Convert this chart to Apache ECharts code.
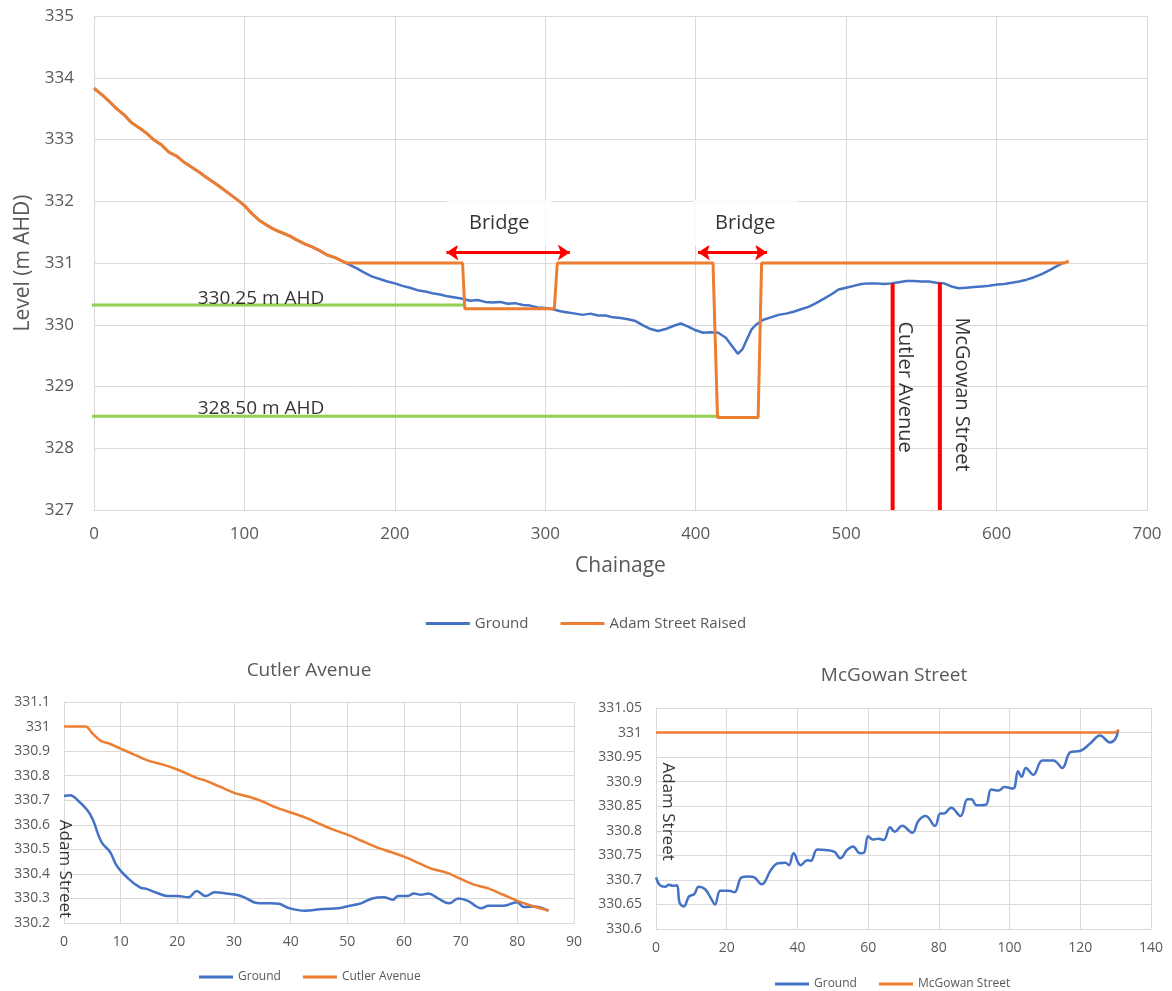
<!DOCTYPE html>
<html><head><meta charset="utf-8">
<script src="https://cdn.jsdelivr.net/npm/echarts@6/dist/echarts.min.js"></script>
<style>html,body{margin:0;padding:0;background:#fff}#c{width:1172px;height:991px}</style>
</head><body><div id="c"></div><script>
// ---------- Main chart data ----------
const mainGround = [
[0,333.83],[5,333.73],[10,333.62],[15,333.50],[20,333.40],[25,333.27],[30,333.19],[35,333.10],[40,332.99],[45,332.91],
[50,332.79],[55,332.73],[60,332.63],[65,332.55],[70,332.47],[75,332.38],[80,332.30],[85,332.21],[90,332.12],[95,332.03],
[100,331.93],[105,331.80],[110,331.69],[115,331.61],[120,331.54],[125,331.49],[130,331.44],[135,331.37],[140,331.31],[145,331.26],
[150,331.20],[155,331.13],[160,331.09],[165,331.03],[170,330.97],[175,330.91],[180,330.84],[185,330.78],[190,330.74],[195,330.70],
[200,330.67],[205,330.63],[210,330.60],[215,330.56],[220,330.54],[225,330.51],[230,330.49],[235,330.46],[240,330.44],[245,330.42],
[250,330.39],[255,330.40],[260,330.37],[265,330.36],[270,330.37],[275,330.34],[280,330.35],[285,330.32],[290,330.31],[295,330.28],
[300,330.27],[305,330.25],[310,330.22],[315,330.20],[320,330.18],[325,330.16],[330,330.18],[335,330.15],[340,330.15],[345,330.12],
[350,330.11],[355,330.09],[360,330.06],[365,329.99],[370,329.93],[375,329.90],[380,329.93],[385,329.98],[390,330.02],[395,329.97],
[400,329.91],[405,329.87],[410,329.88],[415,329.87],[420,329.79],[424,329.66],[428,329.53],[431,329.60],[434,329.76],[437,329.92],
[440,330.00],[445,330.08],[450,330.12],[455,330.16],[460,330.18],[465,330.21],[470,330.25],[475,330.29],[480,330.35],[485,330.42],
[490,330.49],[495,330.57],[500,330.60],[505,330.63],[510,330.66],[515,330.67],[520,330.67],[525,330.66],[530,330.67],[535,330.69],
[540,330.71],[545,330.71],[550,330.70],[555,330.70],[560,330.68],[565,330.67],[570,330.62],[575,330.59],[580,330.60],[585,330.61],
[590,330.62],[595,330.63],[600,330.65],[605,330.66],[610,330.68],[615,330.70],[620,330.73],[625,330.77],[630,330.82],[635,330.88],
[640,330.95],[645,331.01]
];
const mainRaised = [
[0,333.83],[5,333.73],[10,333.62],[15,333.50],[20,333.40],[25,333.27],[30,333.19],[35,333.10],[40,332.99],[45,332.91],
[50,332.79],[55,332.73],[60,332.63],[65,332.55],[70,332.47],[75,332.38],[80,332.30],[85,332.21],[90,332.12],[95,332.03],
[100,331.93],[105,331.80],[110,331.69],[115,331.61],[120,331.54],[125,331.49],[130,331.44],[135,331.37],[140,331.31],[145,331.26],
[150,331.20],[155,331.13],[160,331.09],[165,331.03],[168,331.00],
[245,331.00],[246.5,330.26],[306,330.26],[308,331.00],
[411.5,331.00],[414.5,328.50],[441.5,328.50],[443.8,331.00],
[645,331.00],[648,331.03]
];
const levelValues = [330.32, 328.52];
const levelLabels = ['330.25 m AHD', '328.50 m AHD'];
const levelStart = -4.5;
const levelEnds = [246.5, 415.8];
const levelLabelPos = [[111, 330.43], [111, 328.65]];

const streetNames = ['Cutler Avenue', 'McGowan Street'];
const streetChainage = [530.9, 562.3];
const streetTop = [330.67, 330.68];
const streetLabelPos = [[538.9, 328.99], [576.7, 328.87]];

const bridgeFrom = [234.3, 401.5];
const bridgeTo = [316.3, 447.4];
const bridgeArrowLevel = 331.17;
const bridgeLabelPos = [[269.4, 331.65], [433.0, 331.65]];

// ---------- Cutler Avenue data ----------
const cutlerGround = [
[0,330.717],[1.1,330.72],[2.4,330.70],[4.1,330.66],[5.1,330.62],[6.6,330.53],[8.1,330.49],[9.4,330.43],[11.4,330.38],[13.4,330.345],
[14.4,330.34],[16.7,330.32],[18.3,330.31],[20,330.31],[22,330.305],[23.4,330.33],[25,330.31],[26.6,330.325],[28.6,330.32],[31.2,330.31],
[34.5,330.28],[36.5,330.28],[37.9,330.278],[39.8,330.26],[42.5,330.25],[45.8,330.257],[48.4,330.26],[50.4,330.27],[52.4,330.28],[54.4,330.30],
[56.4,330.305],[58,330.295],[59,330.31],[60.7,330.31],[61.7,330.32],[63,330.315],[64.3,330.32],[66,330.30],[68,330.28],[69.6,330.30],
[71.3,330.29],[72.6,330.27],[73.6,330.26],[74.9,330.27],[77.6,330.27],[79.9,330.285],[81.2,330.265],[82.9,330.267],[85.5,330.25]
];
const cutlerRoad = [
[0,331.0],[3.8,331.0],[5.1,330.97],[6.6,330.94],[8.1,330.93],[10,330.91],[12.5,330.885],[15,330.86],[17.5,330.845],[20,330.825],
[23.5,330.79],[25,330.78],[27.5,330.755],[30,330.73],[32.5,330.715],[35,330.695],[37.5,330.67],[40,330.65],[42.5,330.63],[45,330.605],
[47.5,330.58],[50,330.56],[52.5,330.535],[55,330.51],[57.5,330.49],[60,330.47],[62.5,330.445],[65,330.42],[67.5,330.405],[70,330.38],
[72.5,330.355],[75,330.34],[77.5,330.315],[80,330.29],[82.5,330.27],[85.5,330.25]
];
const cutlerAdamPos = [0.1, 330.42];

// ---------- McGowan Street data ----------
const mcgowanGround = [
[0,330.705],[1.0,330.69],[2.6,330.686],[3.6,330.69],[4.8,330.688],[5.9,330.689],[6.7,330.653],[7.9,330.646],[9.3,330.666],[10.8,330.671],
[12.1,330.686],[13.9,330.681],[15.5,330.663],[16.7,330.65],[18.2,330.678],[20.6,330.678],[22.2,330.675],[24.2,330.705],[26.3,330.707],[27.8,330.705],
[29.9,330.691],[32.5,330.72],[34.5,330.734],[36.6,330.735],[37.6,330.73],[38.9,330.754],[40.9,330.73],[42.8,330.74],[43.8,330.739],[45.6,330.762],
[47.9,330.761],[50.5,330.757],[52.1,330.744],[54.1,330.761],[55.7,330.768],[57.7,330.754],[58.8,330.755],[60,330.789],[61.3,330.782],[62.9,330.784],
[64.4,330.781],[66.2,330.807],[67.5,330.798],[69.6,330.81],[72.5,330.796],[74.2,330.82],[76.3,330.83],[78.9,330.81],[80.4,330.835],[81.4,330.835],
[83.5,330.847],[86.1,330.83],[88.1,330.864],[89.2,330.864],[90.7,330.852],[93.3,330.853],[94.8,330.884],[96.9,330.882],[98.5,330.889],[101.0,330.886],
[102.4,330.921],[103.4,330.91],[104.6,330.928],[106.7,330.914],[109.3,330.943],[112.4,330.943],[114.9,330.928],[117.2,330.96],[120.1,330.963],[122.7,330.977],
[125.6,330.994],[128.4,330.98],[129.9,330.987],[130.7,331.004]
];
const mcgowanRoad = [[0,331.0],[130,331.0],[130.9,331.006]];
const mcgowanAdamPos = [3.25, 330.839];

// ---------- styling ----------
const FONT = 'Open Sans';
const GRAY = '#595959';
const GRIDC = '#D9D9D9';
const BLUE = '#4472C4';
const ORANGE = '#ED7D31';
const GREEN = '#92D050';
const RED = '#FF0000';

function fmt(v){ return String(parseFloat(v.toFixed(2))); }
function lineSeries(name, data, color, width, idx, extra){
  return Object.assign({type:'line', name, data, xAxisIndex:idx, yAxisIndex:idx, symbol:'none', showSymbol:false,
    lineStyle:{color, width}, itemStyle:{color}, silent:true, animation:false}, extra||{});
}
function textSeries(pos, text, idx, labelOpts){
  return {type:'scatter', data:[pos], xAxisIndex:idx, yAxisIndex:idx, symbolSize:0, silent:true, animation:false, z:6,
    label: Object.assign({show:true, position:'inside', formatter:text, fontFamily:FONT, color:'#000'}, labelOpts||{})};
}
function valueAxis(idx, o){
  return Object.assign({type:'value', gridIndex:idx,
    axisLine:{show:true, lineStyle:{color:GRIDC, width:1}}, axisTick:{show:false},
    splitLine:{show:true, lineStyle:{color:GRIDC, width:1}},
    axisLabel:{color:GRAY, fontFamily:FONT}}, o);
}

const series = [];
// main chart
series.push(lineSeries('Ground', mainGround, BLUE, 2.5, 0, {z:3}));
levelValues.forEach((lv,i)=>{
  series.push(lineSeries('level'+i, [[levelStart, lv],[levelEnds[i], lv]], GREEN, 3, 0, {z:2, clip:false}));
  series.push(textSeries(levelLabelPos[i], levelLabels[i], 0, {fontSize:19}));
});
series.push(lineSeries('Adam Street Raised', mainRaised, ORANGE, 3, 0, {z:4}));
streetChainage.forEach((c,i)=>{
  series.push(lineSeries('street'+i, [[c, streetTop[i]],[c, 327]], RED, 4, 0, {z:5}));
  series.push(textSeries(streetLabelPos[i], streetNames[i], 0, {fontSize:20, rotate:-90}));
});
bridgeLabelPos.forEach((p)=>{
  series.push(textSeries(p, 'Bridge', 0, {fontSize:20, backgroundColor:'#fff', padding:[13,22]}));
});
series.push({type:'line', name:'arrows', xAxisIndex:0, yAxisIndex:0, data:[], silent:true, animation:false,
  markLine:{silent:true, animation:false, symbol:['arrow','arrow'], symbolSize:[12,12],
    label:{show:false}, lineStyle:{color:RED, width:3, type:'solid'},
    data: bridgeFrom.map((f,i)=>[{coord:[f, bridgeArrowLevel]},{coord:[bridgeTo[i], bridgeArrowLevel]}])}});

// Cutler
series.push(lineSeries('Ground', cutlerGround, BLUE, 2.5, 1, {smooth:0.4}));
series.push(lineSeries('Cutler Avenue', cutlerRoad, ORANGE, 2.5, 1, {smooth:0.3}));
series.push(textSeries(cutlerAdamPos, 'Adam Street', 1, {fontSize:17, rotate:-90}));
// McGowan
series.push(lineSeries('Ground', mcgowanGround, BLUE, 2.5, 2, {smooth:0.4}));
series.push(lineSeries('McGowan Street', mcgowanRoad, ORANGE, 2.5, 2));
series.push(textSeries(mcgowanAdamPos, 'Adam Street', 2, {fontSize:17, rotate:-90}));

const legendBase = {icon:'rect', itemHeight:3, textStyle:{color:GRAY, fontFamily:FONT}, selectedMode:false};

const option = {
  animation:false,
  backgroundColor:'#fff',
  title:[
    {text:'Cutler Avenue', left:304, top:656, textAlign:'center', textStyle:{color:GRAY, fontFamily:FONT, fontSize:19, fontWeight:'normal'}},
    {text:'McGowan Street', left:889, top:661, textAlign:'center', textStyle:{color:GRAY, fontFamily:FONT, fontSize:19, fontWeight:'normal'}}
  ],
  legend:[
    Object.assign({}, legendBase, {data:['Ground','Adam Street Raised'], left:'center', top:611, itemWidth:44, itemGap:32, textStyle:{color:GRAY, fontFamily:FONT, fontSize:15}}),
    Object.assign({}, legendBase, {data:['Ground','Cutler Avenue'], left:194, top:966, itemWidth:34, itemGap:22, textStyle:{color:GRAY, fontFamily:FONT, fontSize:12}}),
    Object.assign({}, legendBase, {data:['Ground','McGowan Street'], left:770, top:973, itemWidth:34, itemGap:22, textStyle:{color:GRAY, fontFamily:FONT, fontSize:12}})
  ],
  grid:[
    {left:94, top:16, width:1053, height:494},
    {left:64, top:702, width:510, height:221},
    {left:656, top:708, width:495, height:221}
  ],
  xAxis:[
    valueAxis(0, {min:0, max:700, interval:100, name:'Chainage', nameLocation:'middle', nameGap:46,
      nameTextStyle:{color:GRAY, fontFamily:FONT, fontSize:21},
      axisLabel:{color:GRAY, fontFamily:FONT, fontSize:17, margin:16}}),
    valueAxis(1, {min:0, max:90, interval:10, axisLabel:{color:GRAY, fontFamily:FONT, fontSize:14, margin:12}}),
    valueAxis(2, {min:0, max:140, interval:20, axisLabel:{color:GRAY, fontFamily:FONT, fontSize:14, margin:12}})
  ],
  yAxis:[
    valueAxis(0, {min:327, max:335, interval:1, name:'Level (m AHD)', nameLocation:'middle', nameRotate:90, nameGap:60,
      nameTextStyle:{color:GRAY, fontFamily:FONT, fontSize:21},
      axisLabel:{color:GRAY, fontFamily:FONT, fontSize:17, margin:20}}),
    valueAxis(1, {min:330.2, max:331.1, interval:0.1, axisLabel:{color:GRAY, fontFamily:FONT, fontSize:14, margin:14, formatter:fmt}}),
    valueAxis(2, {min:330.6, max:331.05, interval:0.05, axisLabel:{color:GRAY, fontFamily:FONT, fontSize:14, margin:14, formatter:fmt}})
  ],
  series
};
const chart = echarts.init(document.getElementById('c'), null, {renderer:'canvas'});
chart.setOption(option);
</script></body></html>
